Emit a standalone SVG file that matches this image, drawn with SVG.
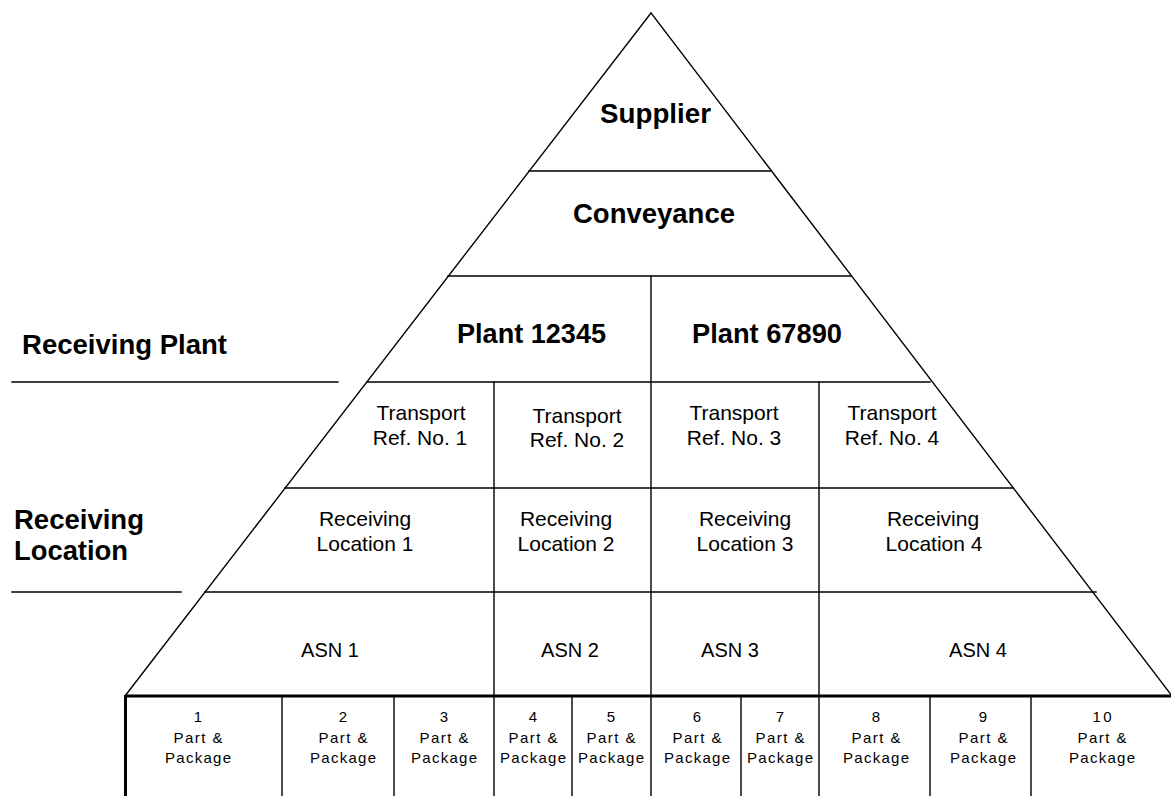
<svg xmlns="http://www.w3.org/2000/svg" width="1171" height="796" viewBox="0 0 1171 796">
<style>
.ln{stroke:#000;stroke-width:1.4;fill:none;stroke-linecap:square}
.thick{stroke:#000;stroke-width:3;fill:none}
.b{font-family:"Liberation Sans",Arial,sans-serif;font-weight:bold;font-size:27px;fill:#000}
.r{font-family:"Liberation Sans",Arial,sans-serif;font-size:21px;fill:#000;text-anchor:middle}
.a{font-family:"Liberation Sans",Arial,sans-serif;font-size:20px;fill:#000;text-anchor:middle}
.s{font-family:"Liberation Sans",Arial,sans-serif;font-size:15px;fill:#000;text-anchor:middle}
.c{text-anchor:middle}
</style>
<rect width="1171" height="796" fill="#fff"/>
<g id="lines">
  <path class="ln" d="M651 13 L125 696 M651 13 L1172 696"/>
  <path class="ln" d="M529 171 H771 M448 276 H851 M367 382 H930 M285 488 H1013 M205 592 H1096"/>
  <path class="ln" d="M12 382 H338 M12 592 H181"/>
  <path class="ln" d="M651 276 V796 M494 382 V796 M819 382 V796"/>
  <path class="ln" d="M282 696 V796 M394 696 V796 M572 696 V796 M741 696 V796 M930 696 V796 M1031 696 V796"/>
  <path class="thick" d="M125 696 H1171"/>
  <path class="thick" d="M125.5 695 V796"/>
</g>
<g id="supplier"><text class="b c" x="655.5" y="123" textLength="111" lengthAdjust="spacingAndGlyphs">Supplier</text></g>
<g id="conveyance"><text class="b c" x="654" y="223" textLength="162" lengthAdjust="spacingAndGlyphs">Conveyance</text></g>
<g id="plant-12345"><text class="b c" x="531.5" y="343" textLength="149" lengthAdjust="spacingAndGlyphs">Plant 12345</text></g>
<g id="plant-67890"><text class="b c" x="767" y="343" textLength="150" lengthAdjust="spacingAndGlyphs">Plant 67890</text></g>
<g id="label-receiving-plant"><text class="b" x="22" y="354" textLength="205" lengthAdjust="spacingAndGlyphs">Receiving Plant</text></g>
<g id="label-receiving-location">
  <text class="b" x="14" y="529" textLength="130" lengthAdjust="spacingAndGlyphs">Receiving</text>
  <text class="b" x="14" y="560" textLength="114" lengthAdjust="spacingAndGlyphs">Location</text>
</g>
<g id="transport-1"><text class="r" x="421" y="420">Transport</text><text class="r" x="420" y="445">Ref. No. 1</text></g>
<g id="transport-2"><text class="r" x="577" y="423">Transport</text><text class="r" x="577" y="447">Ref. No. 2</text></g>
<g id="transport-3"><text class="r" x="734" y="420">Transport</text><text class="r" x="734" y="445">Ref. No. 3</text></g>
<g id="transport-4"><text class="r" x="892" y="420">Transport</text><text class="r" x="892" y="445">Ref. No. 4</text></g>
<g id="location-1"><text class="r" x="365" y="526">Receiving</text><text class="r" x="365" y="551">Location 1</text></g>
<g id="location-2"><text class="r" x="566" y="526">Receiving</text><text class="r" x="566" y="551">Location 2</text></g>
<g id="location-3"><text class="r" x="745" y="526">Receiving</text><text class="r" x="745" y="551">Location 3</text></g>
<g id="location-4"><text class="r" x="933" y="526">Receiving</text><text class="r" x="934" y="551">Location 4</text></g>
<g id="asn-1"><text class="a" x="330" y="657">ASN 1</text></g>
<g id="asn-2"><text class="a" x="570" y="657">ASN 2</text></g>
<g id="asn-3"><text class="a" x="730" y="657">ASN 3</text></g>
<g id="asn-4"><text class="a" x="978" y="657">ASN 4</text></g>
<g id="part-1"><text class="s" x="198" y="722">1</text><text class="s" x="198" y="743" textLength="49" lengthAdjust="spacing">Part &amp;</text><text class="s" x="198" y="763" textLength="66" lengthAdjust="spacing">Package</text></g>
<g id="part-2"><text class="s" x="343" y="722">2</text><text class="s" x="343" y="743" textLength="49" lengthAdjust="spacing">Part &amp;</text><text class="s" x="343" y="763" textLength="66" lengthAdjust="spacing">Package</text></g>
<g id="part-3"><text class="s" x="444" y="722">3</text><text class="s" x="444" y="743" textLength="49" lengthAdjust="spacing">Part &amp;</text><text class="s" x="444" y="763" textLength="66" lengthAdjust="spacing">Package</text></g>
<g id="part-4"><text class="s" x="533" y="722">4</text><text class="s" x="533" y="743" textLength="49" lengthAdjust="spacing">Part &amp;</text><text class="s" x="533" y="763" textLength="66" lengthAdjust="spacing">Package</text></g>
<g id="part-5"><text class="s" x="611" y="722">5</text><text class="s" x="611" y="743" textLength="49" lengthAdjust="spacing">Part &amp;</text><text class="s" x="611" y="763" textLength="66" lengthAdjust="spacing">Package</text></g>
<g id="part-6"><text class="s" x="697" y="722">6</text><text class="s" x="697" y="743" textLength="49" lengthAdjust="spacing">Part &amp;</text><text class="s" x="697" y="763" textLength="66" lengthAdjust="spacing">Package</text></g>
<g id="part-7"><text class="s" x="780" y="722">7</text><text class="s" x="780" y="743" textLength="49" lengthAdjust="spacing">Part &amp;</text><text class="s" x="780" y="763" textLength="66" lengthAdjust="spacing">Package</text></g>
<g id="part-8"><text class="s" x="876" y="722">8</text><text class="s" x="876" y="743" textLength="49" lengthAdjust="spacing">Part &amp;</text><text class="s" x="876" y="763" textLength="66" lengthAdjust="spacing">Package</text></g>
<g id="part-9"><text class="s" x="983" y="722">9</text><text class="s" x="983" y="743" textLength="49" lengthAdjust="spacing">Part &amp;</text><text class="s" x="983" y="763" textLength="66" lengthAdjust="spacing">Package</text></g>
<g id="part-10"><text class="s" x="1102" y="722" textLength="19" lengthAdjust="spacing">10</text><text class="s" x="1102" y="743" textLength="49" lengthAdjust="spacing">Part &amp;</text><text class="s" x="1102" y="763" textLength="66" lengthAdjust="spacing">Package</text></g>
</svg>
